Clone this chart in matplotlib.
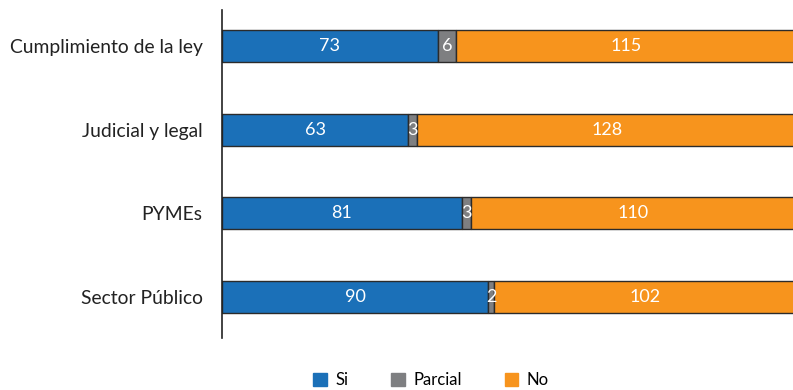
import matplotlib.pyplot as plt
import numpy as np

plt.rcParams['font.family'] = ['Lato', 'DejaVu Sans']

categories = ["Cumplimiento de la ley", "Judicial y legal", "PYMEs", "Sector Público"]
si = [73, 63, 81, 90]
parcial = [6, 3, 3, 2]
no = [115, 128, 110, 102]

series = [("Si", si, "#1b70b8"), ("Parcial", parcial, "#7e7f81"), ("No", no, "#f7941d")]

fig = plt.figure(figsize=(7.93, 3.90), dpi=100)
ax = fig.add_axes([222 / 793, 1 - 338 / 390, 1 - 222 / 793, 328 / 390])

y = np.arange(len(categories))
left = np.zeros(len(categories))
for name, vals, col in series:
    bars = ax.barh(y, vals, left=left, height=0.38, color=col, edgecolor="#2b2b2b",
                   linewidth=1.0, label=name)
    for yi, l, v in zip(y, left, vals):
        ax.text(l + v / 2, yi, str(v), ha="center", va="center", color="white", fontsize=13)
    left += vals

ax.set_xlim(0, 193)
ax.set_ylim(3.49, -0.43)
ax.set_yticks(y)
ax.set_yticklabels(categories, fontsize=13.9, color="#222222")
ax.tick_params(axis="y", length=0, pad=14)
ax.set_xticks([])
for s in ["top", "right", "bottom"]:
    ax.spines[s].set_visible(False)
ax.spines["left"].set_linewidth(1.2)
ax.spines["left"].set_color("#222222")

handles = [plt.Rectangle((0, 0), 1, 1, color=c) for _, _, c in series]
fig.legend(handles, [n for n, _, _ in series], loc="center", ncol=3,
           bbox_to_anchor=(431 / 793, 1 - 380 / 390), frameon=False, fontsize=12,
           handlelength=0.8, handleheight=0.8, columnspacing=2.6, handletextpad=0.5)

fig.savefig("out.png", dpi=100)
